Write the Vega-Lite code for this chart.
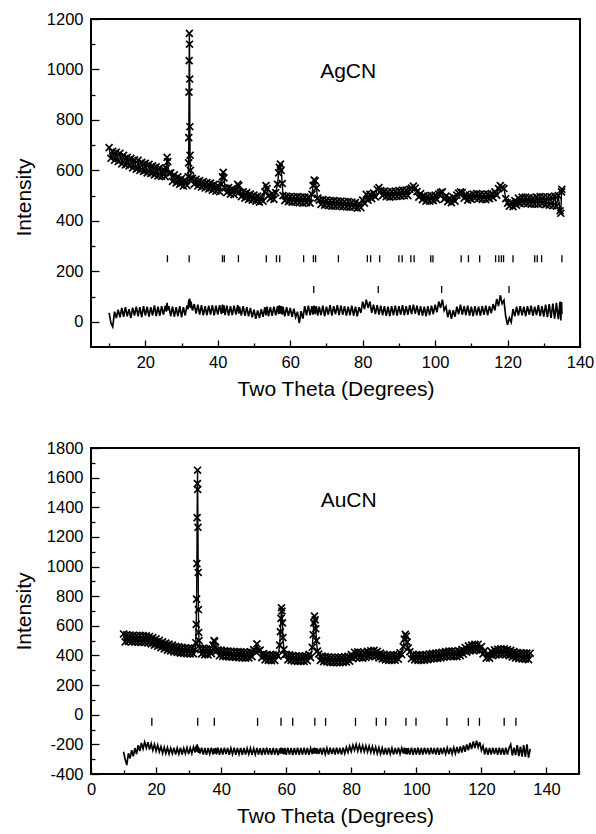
{
"$schema":"https://vega.github.io/schema/vega-lite/v6.json",
"background":"white",
"padding":{"left":12,"top":10,"right":10,"bottom":5},
"config":{"font":"Liberation Sans","view":{"stroke":"black","strokeWidth":2},
"axis":{"domain":false,"grid":false,"tickColor":"black","tickWidth":1.3,"labelColor":"black","titleColor":"black","labelFont":"Liberation Sans","titleFont":"Liberation Sans","labelFontSize":16.5,"titleFontSize":21,"titleFontWeight":"normal","labelFlush":false,"labelOverlap":false}},
"datasets":{
"ag":[{"x":10,"o":690,"d":35},{"x":10.5,"o":648,"d":-5},{"x":11,"o":676,"d":-20},{"x":11.5,"o":640,"d":40},{"x":12,"o":672,"d":15},{"x":12.5,"o":635,"d":48},{"x":13,"o":668,"d":18},{"x":13.5,"o":626,"d":55},{"x":14,"o":660,"d":20},{"x":14.5,"o":622,"d":58},{"x":15,"o":652,"d":22},{"x":15.5,"o":618,"d":50},{"x":16,"o":648,"d":15},{"x":16.5,"o":610,"d":56},{"x":17,"o":642,"d":25},{"x":17.5,"o":605,"d":60},{"x":18,"o":640,"d":22},{"x":18.5,"o":600,"d":58},{"x":19,"o":632,"d":18},{"x":19.5,"o":596,"d":62},{"x":20,"o":628,"d":25},{"x":20.5,"o":590,"d":60},{"x":21,"o":624,"d":20},{"x":21.5,"o":588,"d":58},{"x":22,"o":618,"d":25},{"x":22.5,"o":582,"d":65},{"x":23,"o":614,"d":22},{"x":23.5,"o":578,"d":60},{"x":24,"o":610,"d":24},{"x":24.5,"o":576,"d":62},{"x":25,"o":604,"d":28},{"x":25.5,"o":575,"d":64},{"x":25.8,"o":608,"d":40},{"x":26,"o":652,"d":75},{"x":26.2,"o":635,"d":45},{"x":26.5,"o":588,"d":62},{"x":27,"o":590,"d":22},{"x":27.5,"o":556,"d":60},{"x":28,"o":582,"d":20},{"x":28.5,"o":550,"d":58},{"x":29,"o":575,"d":22},{"x":29.5,"o":545,"d":62},{"x":30,"o":568,"d":18},{"x":30.5,"o":538,"d":58},{"x":31,"o":562,"d":25},{"x":31.5,"o":540,"d":65},{"x":31.8,"o":575,"d":50},{"x":31.95,"o":630,"d":82},{"x":32,"o":730,"d":60},{"x":32.05,"o":910,"d":88},{"x":32.1,"o":1035,"d":62},{"x":32.15,"o":1143,"d":90},{"x":32.2,"o":1100,"d":65},{"x":32.25,"o":962,"d":92},{"x":32.3,"o":773,"d":60},{"x":32.35,"o":660,"d":85},{"x":32.45,"o":600,"d":55},{"x":32.6,"o":570,"d":80},{"x":33,"o":568,"d":45},{"x":33.5,"o":545,"d":70},{"x":34,"o":565,"d":32},{"x":34.5,"o":538,"d":68},{"x":35,"o":560,"d":28},{"x":35.5,"o":534,"d":66},{"x":36,"o":556,"d":25},{"x":36.5,"o":530,"d":62},{"x":37,"o":552,"d":26},{"x":37.5,"o":526,"d":64},{"x":38,"o":550,"d":28},{"x":38.5,"o":522,"d":66},{"x":39,"o":545,"d":25},{"x":39.5,"o":518,"d":64},{"x":40,"o":540,"d":28},{"x":40.5,"o":516,"d":66},{"x":41,"o":545,"d":30},{"x":41.3,"o":575,"d":68},{"x":41.5,"o":592,"d":35},{"x":41.7,"o":570,"d":65},{"x":42,"o":530,"d":26},{"x":42.5,"o":512,"d":64},{"x":43,"o":532,"d":24},{"x":43.5,"o":506,"d":62},{"x":44,"o":528,"d":26},{"x":44.5,"o":504,"d":64},{"x":45,"o":522,"d":28},{"x":45.5,"o":545,"d":66},{"x":45.8,"o":540,"d":32},{"x":46,"o":515,"d":60},{"x":46.5,"o":496,"d":25},{"x":47,"o":515,"d":62},{"x":47.5,"o":490,"d":24},{"x":48,"o":512,"d":58},{"x":48.5,"o":485,"d":22},{"x":49,"o":506,"d":55},{"x":49.5,"o":482,"d":18},{"x":50,"o":502,"d":48},{"x":50.5,"o":478,"d":12},{"x":51,"o":498,"d":45},{"x":51.5,"o":474,"d":15},{"x":52,"o":494,"d":50},{"x":52.5,"o":478,"d":20},{"x":53,"o":515,"d":58},{"x":53.3,"o":540,"d":25},{"x":53.6,"o":528,"d":60},{"x":54,"o":500,"d":22},{"x":54.5,"o":488,"d":58},{"x":55,"o":508,"d":24},{"x":55.5,"o":485,"d":60},{"x":56,"o":512,"d":26},{"x":56.5,"o":545,"d":62},{"x":56.8,"o":590,"d":30},{"x":57,"o":612,"d":65},{"x":57.3,"o":625,"d":32},{"x":57.5,"o":600,"d":62},{"x":57.8,"o":548,"d":28},{"x":58,"o":500,"d":60},{"x":58.5,"o":480,"d":22},{"x":59,"o":498,"d":58},{"x":59.5,"o":476,"d":24},{"x":60,"o":496,"d":55},{"x":60.5,"o":474,"d":20},{"x":61,"o":495,"d":52},{"x":61.5,"o":474,"d":18},{"x":62,"o":496,"d":40},{"x":62.5,"o":472,"d":-5},{"x":63,"o":494,"d":42},{"x":63.5,"o":470,"d":12},{"x":64,"o":494,"d":62},{"x":64.5,"o":472,"d":25},{"x":65,"o":494,"d":64},{"x":65.5,"o":470,"d":26},{"x":66,"o":505,"d":62},{"x":66.3,"o":540,"d":28},{"x":66.6,"o":562,"d":64},{"x":66.9,"o":558,"d":30},{"x":67.2,"o":530,"d":62},{"x":67.6,"o":490,"d":24},{"x":68,"o":482,"d":60},{"x":68.5,"o":465,"d":26},{"x":69,"o":484,"d":64},{"x":69.5,"o":462,"d":22},{"x":70,"o":482,"d":60},{"x":70.5,"o":460,"d":28},{"x":71,"o":480,"d":66},{"x":71.5,"o":458,"d":24},{"x":72,"o":480,"d":62},{"x":72.5,"o":458,"d":30},{"x":73,"o":478,"d":66},{"x":73.5,"o":458,"d":26},{"x":74,"o":478,"d":64},{"x":74.5,"o":456,"d":28},{"x":75,"o":476,"d":62},{"x":75.5,"o":455,"d":24},{"x":76,"o":476,"d":60},{"x":76.5,"o":454,"d":26},{"x":77,"o":474,"d":64},{"x":77.5,"o":454,"d":24},{"x":78,"o":472,"d":60},{"x":78.5,"o":450,"d":22},{"x":79,"o":468,"d":58},{"x":79.5,"o":452,"d":35},{"x":80,"o":482,"d":80},{"x":80.5,"o":470,"d":50},{"x":81,"o":505,"d":88},{"x":81.5,"o":482,"d":55},{"x":82,"o":505,"d":80},{"x":82.5,"o":488,"d":35},{"x":83,"o":510,"d":68},{"x":83.5,"o":495,"d":30},{"x":84,"o":525,"d":66},{"x":84.5,"o":532,"d":28},{"x":85,"o":520,"d":64},{"x":85.5,"o":500,"d":26},{"x":86,"o":518,"d":62},{"x":86.5,"o":496,"d":24},{"x":87,"o":515,"d":60},{"x":87.5,"o":494,"d":22},{"x":88,"o":516,"d":62},{"x":88.5,"o":496,"d":26},{"x":89,"o":518,"d":64},{"x":89.5,"o":497,"d":24},{"x":90,"o":520,"d":62},{"x":90.5,"o":498,"d":28},{"x":91,"o":522,"d":66},{"x":91.5,"o":500,"d":26},{"x":92,"o":522,"d":62},{"x":92.5,"o":500,"d":28},{"x":93,"o":525,"d":66},{"x":93.5,"o":530,"d":30},{"x":94,"o":538,"d":68},{"x":94.5,"o":530,"d":32},{"x":95,"o":516,"d":64},{"x":95.5,"o":494,"d":26},{"x":96,"o":508,"d":62},{"x":96.5,"o":484,"d":24},{"x":97,"o":500,"d":60},{"x":97.5,"o":478,"d":22},{"x":98,"o":498,"d":62},{"x":98.5,"o":478,"d":26},{"x":99,"o":500,"d":64},{"x":99.5,"o":480,"d":30},{"x":100,"o":502,"d":68},{"x":100.5,"o":484,"d":38},{"x":101,"o":506,"d":80},{"x":101.5,"o":512,"d":55},{"x":102,"o":515,"d":88},{"x":102.5,"o":486,"d":45},{"x":103,"o":498,"d":60},{"x":103.5,"o":476,"d":18},{"x":104,"o":490,"d":48},{"x":104.5,"o":472,"d":12},{"x":105,"o":494,"d":46},{"x":105.5,"o":478,"d":20},{"x":106,"o":502,"d":60},{"x":106.5,"o":510,"d":30},{"x":107,"o":515,"d":68},{"x":107.5,"o":512,"d":28},{"x":108,"o":490,"d":62},{"x":108.5,"o":504,"d":26},{"x":109,"o":482,"d":64},{"x":109.5,"o":502,"d":24},{"x":110,"o":485,"d":60},{"x":110.5,"o":506,"d":22},{"x":111,"o":490,"d":62},{"x":111.5,"o":508,"d":26},{"x":112,"o":488,"d":60},{"x":112.5,"o":506,"d":24},{"x":113,"o":485,"d":62},{"x":113.5,"o":505,"d":28},{"x":114,"o":484,"d":64},{"x":114.5,"o":506,"d":26},{"x":115,"o":488,"d":62},{"x":115.5,"o":508,"d":34},{"x":116,"o":492,"d":70},{"x":116.5,"o":515,"d":45},{"x":117,"o":502,"d":90},{"x":117.5,"o":528,"d":62},{"x":118,"o":540,"d":105},{"x":118.5,"o":532,"d":72},{"x":119,"o":528,"d":85},{"x":119.5,"o":488,"d":20},{"x":120,"o":470,"d":-12},{"x":120.5,"o":458,"d":15},{"x":121,"o":474,"d":-2},{"x":121.5,"o":456,"d":50},{"x":122,"o":480,"d":22},{"x":122.5,"o":462,"d":60},{"x":123,"o":490,"d":25},{"x":123.5,"o":468,"d":62},{"x":124,"o":494,"d":26},{"x":124.5,"o":470,"d":60},{"x":125,"o":494,"d":22},{"x":125.5,"o":468,"d":62},{"x":126,"o":492,"d":28},{"x":126.5,"o":466,"d":64},{"x":127,"o":490,"d":24},{"x":127.5,"o":466,"d":60},{"x":128,"o":494,"d":26},{"x":128.5,"o":466,"d":66},{"x":129,"o":496,"d":22},{"x":129.5,"o":468,"d":62},{"x":130,"o":495,"d":20},{"x":130.5,"o":464,"d":68},{"x":131,"o":494,"d":18},{"x":131.5,"o":462,"d":70},{"x":132,"o":495,"d":15},{"x":132.5,"o":460,"d":72},{"x":133,"o":498,"d":12},{"x":133.5,"o":458,"d":75},{"x":134,"o":500,"d":10},{"x":134.5,"o":440,"d":80},{"x":134.7,"o":430,"d":5},{"x":134.9,"o":515,"d":78},{"x":135,"o":525,"d":30}],
"au":[{"x":10,"o":545,"d":-250},{"x":10.5,"o":492,"d":-300},{"x":11,"o":540,"d":-340},{"x":11.5,"o":495,"d":-260},{"x":12,"o":538,"d":-295},{"x":12.5,"o":492,"d":-240},{"x":13,"o":536,"d":-280},{"x":13.5,"o":490,"d":-225},{"x":14,"o":535,"d":-265},{"x":14.5,"o":490,"d":-205},{"x":15,"o":536,"d":-245},{"x":15.5,"o":488,"d":-190},{"x":16,"o":535,"d":-230},{"x":16.5,"o":488,"d":-185},{"x":17,"o":532,"d":-225},{"x":17.5,"o":485,"d":-185},{"x":18,"o":528,"d":-235},{"x":18.5,"o":478,"d":-195},{"x":19,"o":520,"d":-240},{"x":19.5,"o":470,"d":-200},{"x":20,"o":512,"d":-245},{"x":20.5,"o":462,"d":-205},{"x":21,"o":502,"d":-250},{"x":21.5,"o":452,"d":-215},{"x":22,"o":492,"d":-260},{"x":22.5,"o":444,"d":-220},{"x":23,"o":484,"d":-262},{"x":23.5,"o":436,"d":-222},{"x":24,"o":477,"d":-265},{"x":24.5,"o":430,"d":-225},{"x":25,"o":470,"d":-262},{"x":25.5,"o":424,"d":-222},{"x":26,"o":462,"d":-268},{"x":26.5,"o":420,"d":-225},{"x":27,"o":458,"d":-265},{"x":27.5,"o":416,"d":-222},{"x":28,"o":455,"d":-268},{"x":28.5,"o":414,"d":-226},{"x":29,"o":452,"d":-262},{"x":29.5,"o":412,"d":-222},{"x":30,"o":450,"d":-266},{"x":30.5,"o":410,"d":-224},{"x":31,"o":448,"d":-262},{"x":31.5,"o":410,"d":-218},{"x":32,"o":440,"d":-255},{"x":32.2,"o":486,"d":-215},{"x":32.35,"o":610,"d":-250},{"x":32.45,"o":780,"d":-205},{"x":32.55,"o":1020,"d":-245},{"x":32.62,"o":1330,"d":-200},{"x":32.7,"o":1560,"d":-240},{"x":32.75,"o":1650,"d":-210},{"x":32.8,"o":1520,"d":-250},{"x":32.88,"o":1265,"d":-215},{"x":32.95,"o":960,"d":-255},{"x":33.02,"o":710,"d":-220},{"x":33.1,"o":555,"d":-258},{"x":33.2,"o":500,"d":-225},{"x":33.5,"o":450,"d":-262},{"x":34,"o":410,"d":-222},{"x":34.5,"o":448,"d":-268},{"x":35,"o":405,"d":-225},{"x":35.5,"o":445,"d":-270},{"x":36,"o":404,"d":-224},{"x":36.5,"o":448,"d":-265},{"x":37,"o":412,"d":-222},{"x":37.5,"o":470,"d":-268},{"x":37.8,"o":500,"d":-228},{"x":38,"o":495,"d":-262},{"x":38.3,"o":455,"d":-224},{"x":38.6,"o":430,"d":-268},{"x":39,"o":438,"d":-222},{"x":39.5,"o":398,"d":-270},{"x":40,"o":436,"d":-225},{"x":40.5,"o":394,"d":-268},{"x":41,"o":432,"d":-222},{"x":41.5,"o":392,"d":-266},{"x":42,"o":430,"d":-224},{"x":42.5,"o":390,"d":-270},{"x":43,"o":428,"d":-226},{"x":43.5,"o":388,"d":-266},{"x":44,"o":427,"d":-222},{"x":44.5,"o":386,"d":-270},{"x":45,"o":426,"d":-225},{"x":45.5,"o":385,"d":-266},{"x":46,"o":425,"d":-224},{"x":46.5,"o":384,"d":-270},{"x":47,"o":423,"d":-224},{"x":47.5,"o":382,"d":-268},{"x":48,"o":422,"d":-226},{"x":48.5,"o":384,"d":-266},{"x":49,"o":424,"d":-226},{"x":49.5,"o":392,"d":-270},{"x":50,"o":440,"d":-228},{"x":50.5,"o":428,"d":-268},{"x":51,"o":478,"d":-224},{"x":51.5,"o":430,"d":-268},{"x":52,"o":436,"d":-226},{"x":52.5,"o":385,"d":-272},{"x":53,"o":412,"d":-224},{"x":53.5,"o":370,"d":-268},{"x":54,"o":406,"d":-222},{"x":54.5,"o":366,"d":-268},{"x":55,"o":404,"d":-226},{"x":55.5,"o":364,"d":-270},{"x":56,"o":404,"d":-224},{"x":56.5,"o":366,"d":-268},{"x":57,"o":408,"d":-226},{"x":57.5,"o":395,"d":-272},{"x":58,"o":470,"d":-228},{"x":58.2,"o":560,"d":-262},{"x":58.4,"o":650,"d":-222},{"x":58.55,"o":722,"d":-258},{"x":58.7,"o":700,"d":-225},{"x":58.85,"o":620,"d":-265},{"x":59,"o":520,"d":-228},{"x":59.3,"o":440,"d":-268},{"x":59.6,"o":405,"d":-224},{"x":60,"o":408,"d":-270},{"x":60.5,"o":370,"d":-222},{"x":61,"o":404,"d":-268},{"x":61.5,"o":366,"d":-224},{"x":62,"o":400,"d":-272},{"x":62.5,"o":362,"d":-224},{"x":63,"o":398,"d":-268},{"x":63.5,"o":360,"d":-222},{"x":64,"o":396,"d":-270},{"x":64.5,"o":360,"d":-224},{"x":65,"o":396,"d":-268},{"x":65.5,"o":360,"d":-222},{"x":66,"o":398,"d":-268},{"x":66.5,"o":364,"d":-225},{"x":67,"o":408,"d":-270},{"x":67.5,"o":385,"d":-226},{"x":68,"o":455,"d":-266},{"x":68.3,"o":540,"d":-225},{"x":68.5,"o":620,"d":-262},{"x":68.7,"o":665,"d":-222},{"x":68.9,"o":640,"d":-260},{"x":69.1,"o":580,"d":-226},{"x":69.3,"o":500,"d":-264},{"x":69.6,"o":430,"d":-228},{"x":70,"o":410,"d":-266},{"x":70.5,"o":366,"d":-224},{"x":71,"o":396,"d":-268},{"x":71.5,"o":358,"d":-222},{"x":72,"o":392,"d":-266},{"x":72.5,"o":356,"d":-225},{"x":73,"o":390,"d":-268},{"x":73.5,"o":353,"d":-222},{"x":74,"o":388,"d":-266},{"x":74.5,"o":352,"d":-224},{"x":75,"o":388,"d":-268},{"x":75.5,"o":352,"d":-222},{"x":76,"o":388,"d":-266},{"x":76.5,"o":352,"d":-224},{"x":77,"o":388,"d":-268},{"x":77.5,"o":353,"d":-222},{"x":78,"o":390,"d":-262},{"x":78.5,"o":356,"d":-220},{"x":79,"o":395,"d":-255},{"x":79.5,"o":362,"d":-212},{"x":80,"o":406,"d":-248},{"x":80.5,"o":378,"d":-205},{"x":81,"o":422,"d":-240},{"x":81.5,"o":386,"d":-200},{"x":82,"o":424,"d":-245},{"x":82.5,"o":385,"d":-205},{"x":83,"o":420,"d":-248},{"x":83.5,"o":382,"d":-208},{"x":84,"o":420,"d":-250},{"x":84.5,"o":386,"d":-210},{"x":85,"o":428,"d":-252},{"x":85.5,"o":392,"d":-212},{"x":86,"o":432,"d":-255},{"x":86.5,"o":396,"d":-215},{"x":87,"o":434,"d":-258},{"x":87.5,"o":394,"d":-218},{"x":88,"o":428,"d":-262},{"x":88.5,"o":384,"d":-222},{"x":89,"o":416,"d":-265},{"x":89.5,"o":376,"d":-224},{"x":90,"o":408,"d":-268},{"x":90.5,"o":370,"d":-224},{"x":91,"o":404,"d":-268},{"x":91.5,"o":367,"d":-222},{"x":92,"o":402,"d":-266},{"x":92.5,"o":366,"d":-225},{"x":93,"o":404,"d":-268},{"x":93.5,"o":368,"d":-224},{"x":94,"o":406,"d":-266},{"x":94.5,"o":374,"d":-222},{"x":95,"o":418,"d":-265},{"x":95.5,"o":405,"d":-224},{"x":96,"o":460,"d":-262},{"x":96.3,"o":510,"d":-222},{"x":96.6,"o":542,"d":-265},{"x":96.9,"o":530,"d":-226},{"x":97.2,"o":490,"d":-268},{"x":97.5,"o":450,"d":-225},{"x":98,"o":425,"d":-268},{"x":98.5,"o":378,"d":-222},{"x":99,"o":408,"d":-270},{"x":99.5,"o":370,"d":-224},{"x":100,"o":404,"d":-268},{"x":100.5,"o":367,"d":-222},{"x":101,"o":404,"d":-270},{"x":101.5,"o":366,"d":-224},{"x":102,"o":405,"d":-268},{"x":102.5,"o":368,"d":-222},{"x":103,"o":406,"d":-266},{"x":103.5,"o":372,"d":-224},{"x":104,"o":410,"d":-268},{"x":104.5,"o":376,"d":-222},{"x":105,"o":414,"d":-266},{"x":105.5,"o":378,"d":-224},{"x":106,"o":416,"d":-268},{"x":106.5,"o":380,"d":-222},{"x":107,"o":418,"d":-270},{"x":107.5,"o":384,"d":-224},{"x":108,"o":422,"d":-266},{"x":108.5,"o":388,"d":-222},{"x":109,"o":426,"d":-265},{"x":109.5,"o":392,"d":-224},{"x":110,"o":430,"d":-266},{"x":110.5,"o":394,"d":-222},{"x":111,"o":430,"d":-264},{"x":111.5,"o":392,"d":-222},{"x":112,"o":428,"d":-262},{"x":112.5,"o":392,"d":-218},{"x":113,"o":432,"d":-260},{"x":113.5,"o":398,"d":-214},{"x":114,"o":440,"d":-255},{"x":114.5,"o":408,"d":-208},{"x":115,"o":454,"d":-250},{"x":115.5,"o":422,"d":-200},{"x":116,"o":465,"d":-240},{"x":116.5,"o":430,"d":-190},{"x":117,"o":470,"d":-232},{"x":117.5,"o":434,"d":-180},{"x":118,"o":475,"d":-225},{"x":118.5,"o":438,"d":-175},{"x":119,"o":476,"d":-220},{"x":119.5,"o":432,"d":-185},{"x":120,"o":460,"d":-240},{"x":120.5,"o":410,"d":-210},{"x":121,"o":432,"d":-268},{"x":121.5,"o":382,"d":-222},{"x":122,"o":412,"d":-270},{"x":122.5,"o":382,"d":-224},{"x":123,"o":428,"d":-268},{"x":123.5,"o":398,"d":-222},{"x":124,"o":438,"d":-266},{"x":124.5,"o":404,"d":-224},{"x":125,"o":442,"d":-270},{"x":125.5,"o":406,"d":-222},{"x":126,"o":445,"d":-268},{"x":126.5,"o":408,"d":-224},{"x":127,"o":444,"d":-270},{"x":127.5,"o":405,"d":-222},{"x":128,"o":440,"d":-268},{"x":128.5,"o":398,"d":-224},{"x":129,"o":434,"d":-200},{"x":129.5,"o":390,"d":-275},{"x":130,"o":426,"d":-222},{"x":130.5,"o":384,"d":-272},{"x":131,"o":420,"d":-205},{"x":131.5,"o":378,"d":-280},{"x":132,"o":418,"d":-215},{"x":132.5,"o":376,"d":-282},{"x":133,"o":416,"d":-205},{"x":133.5,"o":375,"d":-285},{"x":134,"o":416,"d":-200},{"x":134.5,"o":372,"d":-290},{"x":135,"o":415,"d":-230}],
"agt":[{"x":26.1,"y":250},{"x":32.1,"y":250},{"x":41.3,"y":250},{"x":41.8,"y":250},{"x":45.7,"y":250},{"x":53.4,"y":250},{"x":56.2,"y":250},{"x":57.1,"y":250},{"x":63.7,"y":250},{"x":66.4,"y":250},{"x":67.0,"y":250},{"x":73.3,"y":250},{"x":81.3,"y":250},{"x":82.2,"y":250},{"x":84.7,"y":250},{"x":90.0,"y":250},{"x":90.9,"y":250},{"x":93.3,"y":250},{"x":94.2,"y":250},{"x":98.8,"y":250},{"x":99.4,"y":250},{"x":107.2,"y":250},{"x":109.2,"y":250},{"x":112.3,"y":250},{"x":116.7,"y":250},{"x":117.6,"y":250},{"x":118.3,"y":250},{"x":118.9,"y":250},{"x":121.5,"y":250},{"x":127.5,"y":250},{"x":128.2,"y":250},{"x":129.4,"y":250},{"x":135.0,"y":250},{"x":66.5,"y":128},{"x":84.3,"y":128},{"x":101.8,"y":128},{"x":120.4,"y":128}],
"aut":[{"x":18.7,"y":-48},{"x":32.8,"y":-48},{"x":37.9,"y":-48},{"x":51.2,"y":-48},{"x":58.4,"y":-48},{"x":62.0,"y":-48},{"x":68.8,"y":-48},{"x":72.1,"y":-48},{"x":81.3,"y":-48},{"x":87.7,"y":-48},{"x":90.6,"y":-48},{"x":96.8,"y":-48},{"x":99.9,"y":-48},{"x":109.4,"y":-48},{"x":116.0,"y":-48},{"x":119.4,"y":-48},{"x":127.0,"y":-48},{"x":130.6,"y":-48}],
"agl":[{"t":"AgCN"}],
"aul":[{"t":"AuCN"}]
},
"spacing":38,
"vconcat":[
{"width":489,"height":328,"resolve":{"axis":{"x":"independent","y":"independent"}},
"layer":[
{"data":{"name":"ag"},"mark":{"type":"point","shape":"M-1,-1L1,1M1,-1L-1,1","size":48,"strokeWidth":1.7,"filled":false,"color":"black","opacity":1},
"encoding":{"x":{"field":"x","type":"quantitative","scale":{"domain":[5,140],"nice":false,"zero":false},"axis":{"orient":"bottom","title":"Two Theta (Degrees)","values":[20,40,60,80,100,120,140],"labelExpr":"'' + datum.value","tickSize":-7,"labelPadding":14,"titlePadding":8}},
"y":{"field":"o","type":"quantitative","scale":{"domain":[-100,1200],"nice":false,"zero":false},"axis":{"orient":"left","title":"Intensity","values":[0,200,400,600,800,1000,1200],"labelExpr":"'' + datum.value","tickSize":-8,"labelPadding":16,"titlePadding":12,"titleY":178}}}},
{"data":{"name":"ag"},"mark":{"type":"line","color":"black","strokeWidth":1.4},
"encoding":{"x":{"field":"x","type":"quantitative","axis":{"orient":"bottom","values":[10,30,50,70,90,110,130],"labels":false,"title":null,"tickSize":-4}},
"y":{"field":"o","type":"quantitative","axis":{"orient":"left","values":[100,300,500,700,900,1100],"labels":false,"title":null,"tickSize":-4}}}},
{"data":{"name":"ag"},"mark":{"type":"line","color":"black","strokeWidth":1.7},"encoding":{"x":{"field":"x","type":"quantitative","axis":null},"y":{"field":"d","type":"quantitative","axis":null}}},
{"data":{"name":"agt"},"mark":{"type":"tick","orient":"vertical","size":7,"thickness":1.3,"color":"black","opacity":1},"encoding":{"x":{"field":"x","type":"quantitative","axis":null},"y":{"field":"y","type":"quantitative","axis":null}}},
{"data":{"name":"agl"},"mark":{"type":"text","fontSize":21,"font":"Liberation Sans","align":"center","baseline":"alphabetic","color":"black"},"encoding":{"x":{"datum":76,"type":"quantitative","axis":null},"y":{"datum":966,"type":"quantitative","axis":null},"text":{"field":"t"}}}
]},
{"width":488,"height":326,"resolve":{"axis":{"x":"independent","y":"independent"}},
"layer":[
{"data":{"name":"au"},"mark":{"type":"point","shape":"M-1,-1L1,1M1,-1L-1,1","size":48,"strokeWidth":1.7,"filled":false,"color":"black","opacity":1},
"encoding":{"x":{"field":"x","type":"quantitative","scale":{"domain":[0,150],"nice":false,"zero":false},"axis":{"orient":"bottom","title":"Two Theta (Degrees)","values":[0,20,40,60,80,100,120,140],"labelExpr":"'' + datum.value","tickSize":-7,"labelPadding":14,"titlePadding":8}},
"y":{"field":"o","type":"quantitative","scale":{"domain":[-400,1800],"nice":false,"zero":false},"axis":{"orient":"left","title":"Intensity","values":[-400,-200,0,200,400,600,800,1000,1200,1400,1600,1800],"labelExpr":"'' + datum.value","tickSize":-8,"labelPadding":16,"titlePadding":12}}}},
{"data":{"name":"au"},"mark":{"type":"line","color":"black","strokeWidth":1.4},
"encoding":{"x":{"field":"x","type":"quantitative","axis":{"orient":"bottom","values":[10,30,50,70,90,110,130,150],"labels":false,"title":null,"tickSize":-4}},
"y":{"field":"o","type":"quantitative","axis":{"orient":"left","values":[-300,-100,100,300,500,700,900,1100,1300,1500,1700],"labels":false,"title":null,"tickSize":-4}}}},
{"data":{"name":"au"},"mark":{"type":"line","color":"black","strokeWidth":1.7},"encoding":{"x":{"field":"x","type":"quantitative","axis":null},"y":{"field":"d","type":"quantitative","axis":null}}},
{"data":{"name":"aut"},"mark":{"type":"tick","orient":"vertical","size":8,"thickness":1.3,"color":"black","opacity":1},"encoding":{"x":{"field":"x","type":"quantitative","axis":null},"y":{"field":"y","type":"quantitative","axis":null}}},
{"data":{"name":"aul"},"mark":{"type":"text","fontSize":21,"font":"Liberation Sans","align":"center","baseline":"alphabetic","color":"black"},"encoding":{"x":{"datum":79.2,"type":"quantitative","axis":null},"y":{"datum":1400,"type":"quantitative","axis":null},"text":{"field":"t"}}}
]}
]
}
